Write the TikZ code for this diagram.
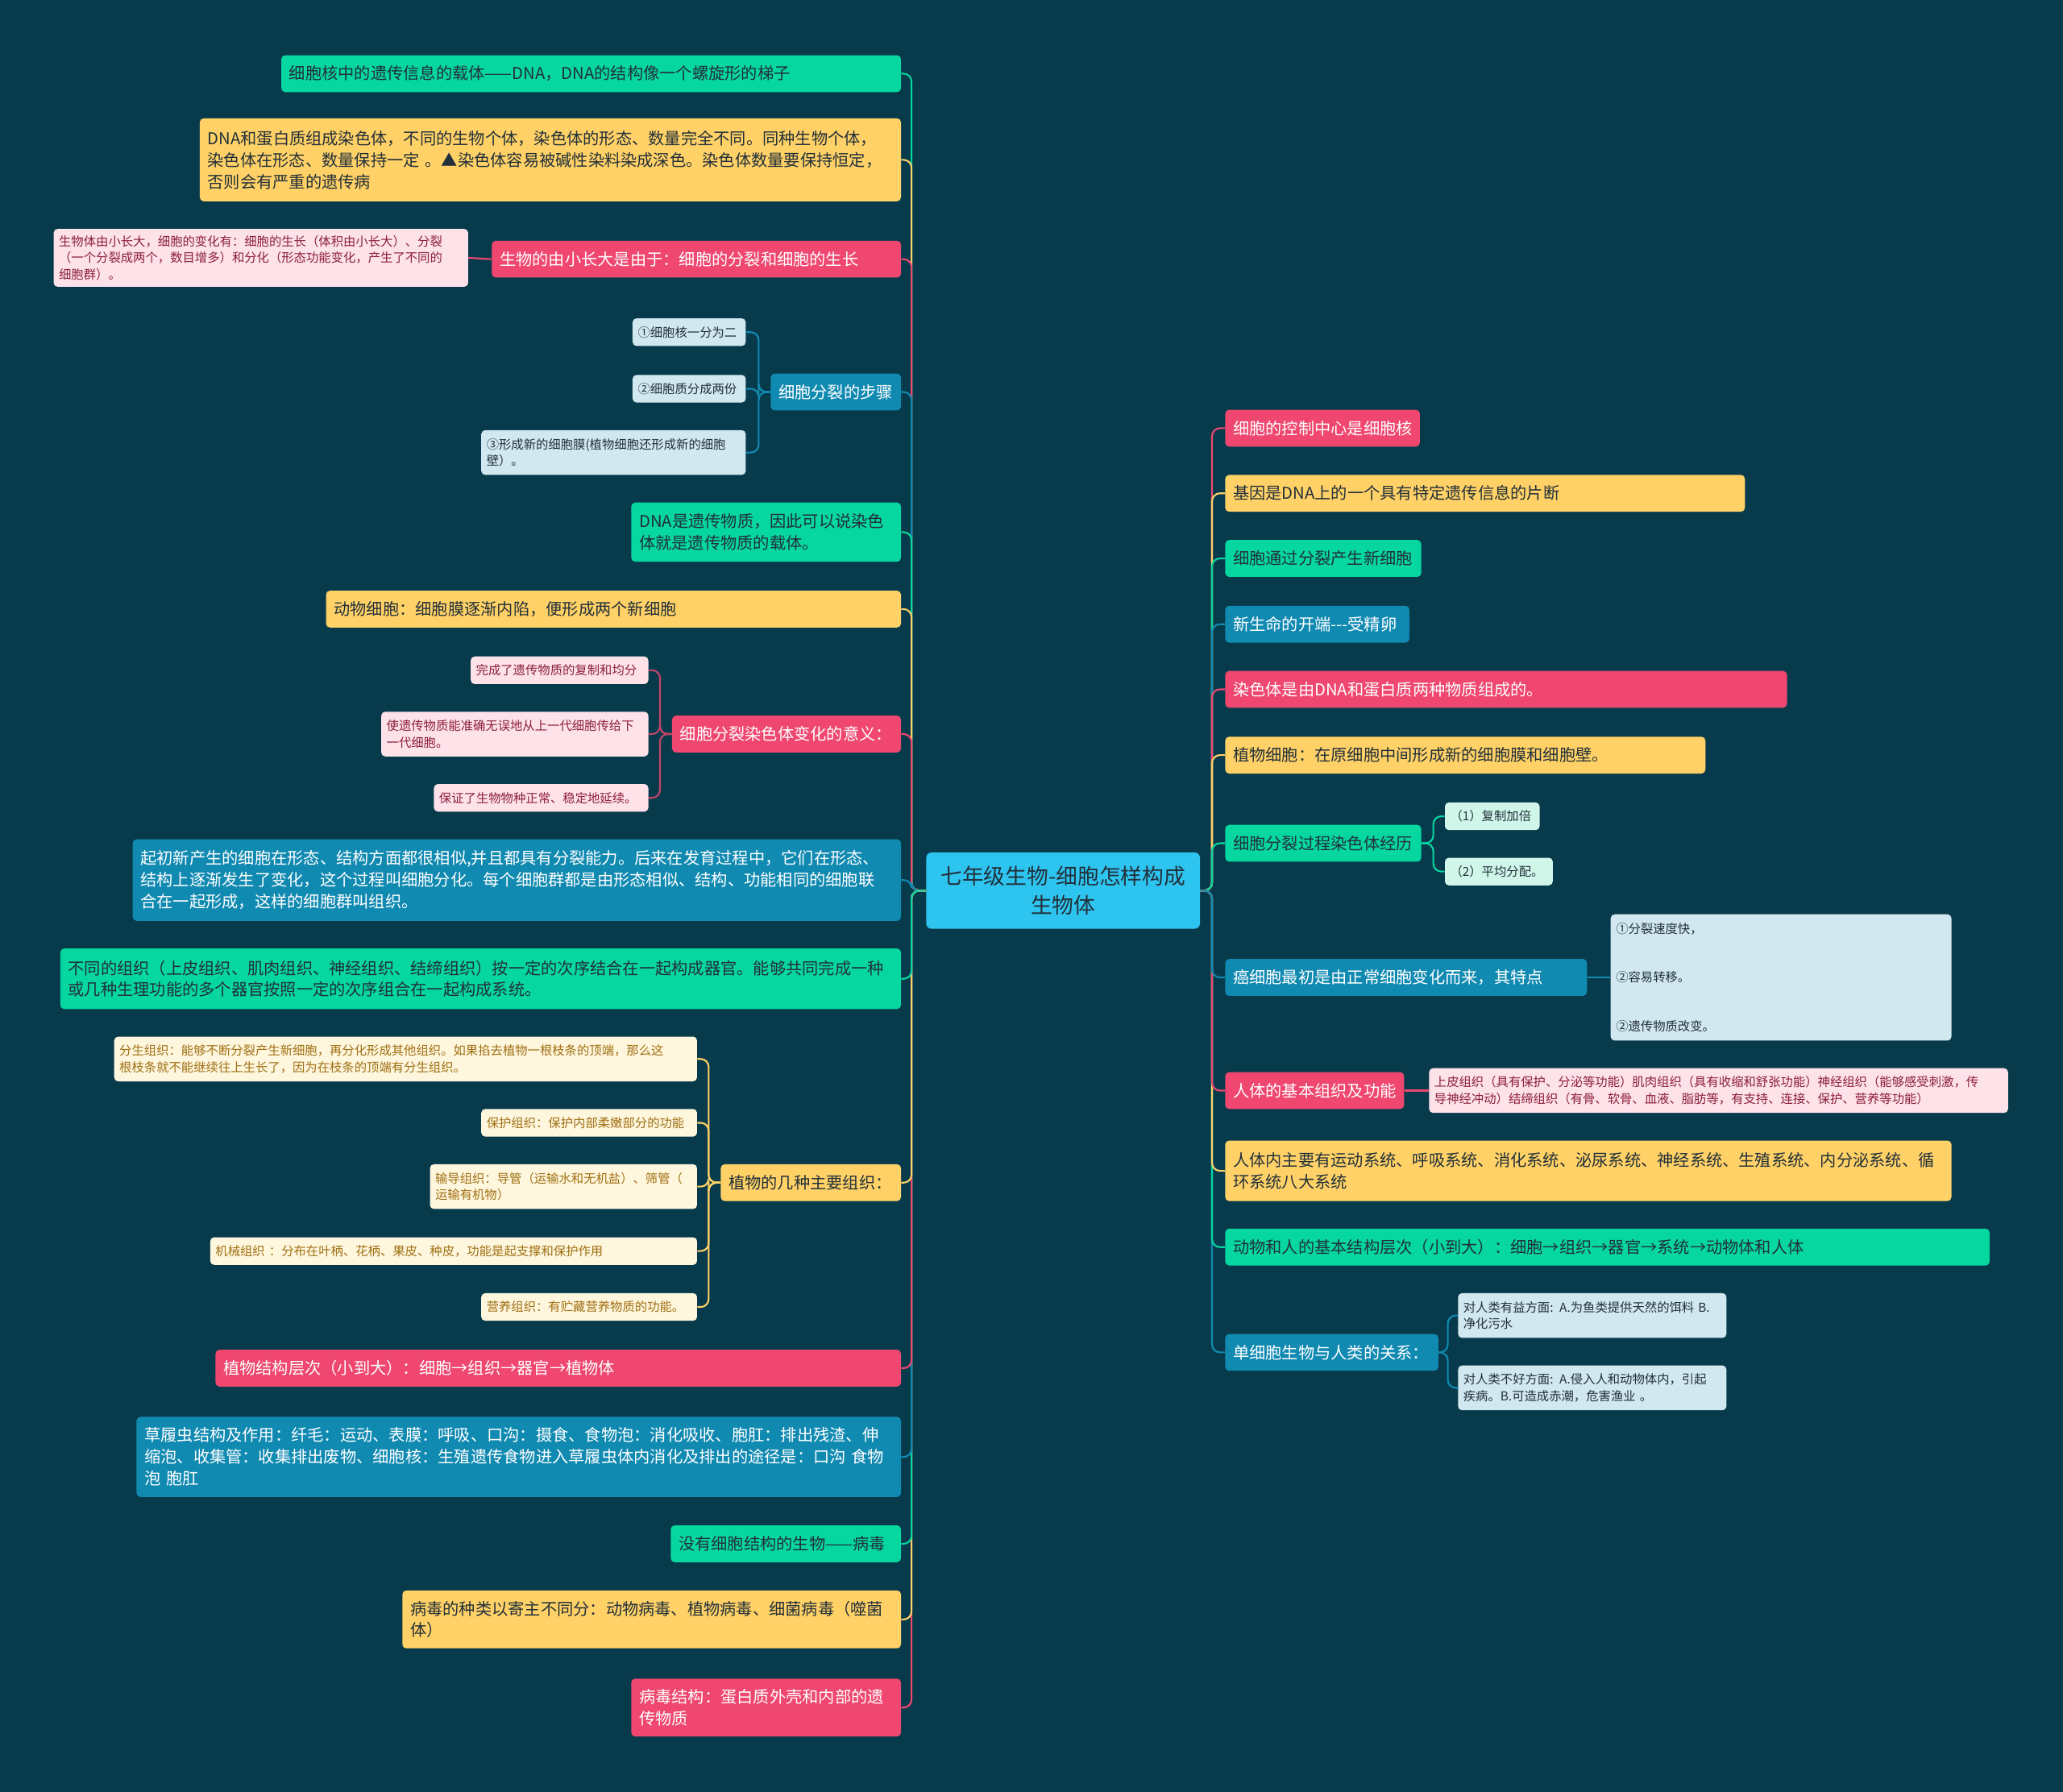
\documentclass[tikz,border=0pt]{standalone}
\usepackage{fontspec}
\setmainfont{Noto Sans CJK SC}
\usetikzlibrary{calc}
\definecolor{bg}{RGB}{7,59,76}
\definecolor{cgreen}{RGB}{6,214,160}
\definecolor{cyellow}{RGB}{255,209,102}
\definecolor{cred}{RGB}{239,71,111}
\definecolor{cblue}{RGB}{17,138,178}
\definecolor{ccyan}{RGB}{46,196,240}
\definecolor{cdark}{RGB}{34,48,58}
\definecolor{cpink}{RGB}{253,226,234}
\definecolor{cpinktxt}{RGB}{140,30,62}
\definecolor{clblue}{RGB}{210,232,240}
\definecolor{ccream}{RGB}{255,246,222}
\definecolor{ccreamtxt}{RGB}{158,112,18}
\definecolor{cmint}{RGB}{208,246,234}
\newcommand\bigtxt{\fontsize{12.4}{16.5}\selectfont}
\newcommand\smalltxt{\fontsize{9.4}{12.6}\selectfont}
\newcommand\centxt{\fontsize{16.4}{22}\selectfont}
\tikzset{
  nbase/.style={rounded corners=3pt, inner xsep=6pt, inner ysep=5pt, align=left, font=\bigtxt, minimum height=28pt},
  gblk/.style={nbase, fill=cgreen, text=cdark},
  yblk/.style={nbase, fill=cyellow, text=cdark},
  rblk/.style={nbase, fill=cred, text=white},
  bblk/.style={nbase, fill=cblue, text=white},
  sbase/.style={rounded corners=3pt, inner xsep=4pt, inner ysep=4pt, align=left, font=\smalltxt, minimum height=21pt},
  pblk/.style={sbase, fill=cpink, text=cpinktxt},
  lblk/.style={sbase, fill=clblue, text=cdark},
  cblk/.style={sbase, fill=ccream, text=ccreamtxt},
  mblk/.style={sbase, fill=cmint, text=cdark},
  cen/.style={rounded corners=4pt, fill=ccyan, text=cdark, font=\centxt, align=center, minimum height=58pt, minimum width=208pt},
  ln/.style={line width=1.3pt, rounded corners=6pt},
}

\begin{document}
\begin{tikzpicture}[x=1pt, y=-1pt]
\fill[bg] (0,0) rectangle (1568,1362);
\useasboundingbox (0,0) rectangle (1568,1362);

\node[cen, text width=196pt] (root) at (808,677) {七年级生物-细胞怎样构成\\生物体};

% left side
\node[gblk, anchor=east, text width=459pt] (ladder) at (685,56) {细胞核中的遗传信息的载体——DNA，DNA的结构像一个螺旋形的梯子};
\node[yblk, anchor=east, text width=521pt, minimum height=63pt] (chrom) at (685,121.5) {DNA和蛋白质组成染色体，不同的生物个体，染色体的形态、数量完全不同。同种生物个体，\\染色体在形态、数量保持一定 。▲染色体容易被碱性染料染成深色。染色体数量要保持恒定，\\否则会有严重的遗传病};
\node[rblk, anchor=east, text width=299pt] (grow) at (685,197) {生物的由小长大是由于：细胞的分裂和细胞的生长};
\node[pblk, anchor=east, text width=307pt, minimum height=44pt] (growx) at (356,196) {生物体由小长大，细胞的变化有：细胞的生长（体积由小长大）、分裂\\（一个分裂成两个，数目增多）和分化（形态功能变化，产生了不同的\\细胞群）。};
\node[bblk, anchor=east, text width=87pt] (steps) at (685,298) {细胞分裂的步骤};
\node[lblk, anchor=east, text width=78pt] (s1) at (567,252.5) {①细胞核一分为二};
\node[lblk, anchor=east, text width=78pt] (s2) at (567,295.5) {②细胞质分成两份};
\node[lblk, anchor=east, text width=193pt, minimum height=34pt] (s3) at (567,344) {③形成新的细胞膜(植物细胞还形成新的细胞\\壁）。};
\node[gblk, anchor=east, text width=193pt, minimum height=45pt] (dnamat) at (685,404.5) {DNA是遗传物质，因此可以说染色\\体就是遗传物质的载体。};
\node[yblk, anchor=east, text width=425pt] (animal) at (685,463) {动物细胞：细胞膜逐渐内陷，便形成两个新细胞};
\node[rblk, anchor=east, text width=162pt] (mean) at (685,558) {细胞分裂染色体变化的意义：};
\node[pblk, anchor=east, text width=127pt] (m1) at (493,509.5) {完成了遗传物质的复制和均分};
\node[pblk, anchor=east, text width=195pt, minimum height=34pt] (m2) at (493,558) {使遗传物质能准确无误地从上一代细胞传给下\\一代细胞。};
\node[pblk, anchor=east, text width=155pt] (m3) at (493,606.5) {保证了生物物种正常、稳定地延续。};
\node[bblk, anchor=east, text width=572pt, minimum height=62pt] (diff) at (685,669) {起初新产生的细胞在形态、结构方面都很相似,并且都具有分裂能力。后来在发育过程中，它们在形态、\\结构上逐渐发生了变化，这个过程叫细胞分化。每个细胞群都是由形态相似、结构、功能相同的细胞联\\合在一起形成，这样的细胞群叫组织。};
\node[gblk, anchor=east, text width=627pt, minimum height=46pt] (organ) at (685,744) {不同的组织（上皮组织、肌肉组织、神经组织、结缔组织）按一定的次序结合在一起构成器官。能够共同完成一种\\或几种生理功能的多个器官按照一定的次序组合在一起构成系统。};
\node[yblk, anchor=east, text width=125pt] (ptis) at (685,899) {植物的几种主要组织：};
\node[cblk, anchor=east, text width=435pt, minimum height=34pt] (t1) at (530,805) {分生组织：能够不断分裂产生新细胞，再分化形成其他组织。如果掐去植物一根枝条的顶端，那么这\\根枝条就不能继续往上生长了，因为在枝条的顶端有分生组织。};
\node[cblk, anchor=east, text width=156pt] (t2) at (530,853.5) {保护组织：保护内部柔嫩部分的功能};
\node[cblk, anchor=east, text width=195pt, minimum height=34pt] (t3) at (530,902) {输导组织：导管（运输水和无机盐）、筛管（\\运输有机物）};
\node[cblk, anchor=east, text width=362pt] (t4) at (530,951) {机械组织 ：分布在叶柄、花柄、果皮、种皮，功能是起支撑和保护作用};
\node[cblk, anchor=east, text width=156pt] (t5) at (530,993.5) {营养组织：有贮藏营养物质的功能。};
\node[rblk, anchor=east, text width=509pt] (plev) at (685,1040) {植物结构层次（小到大）：细胞→组织→器官→植物体};
\node[bblk, anchor=east, text width=569pt, minimum height=61pt] (para) at (685,1107.5) {草履虫结构及作用：纤毛：运动、表膜：呼吸、口沟：摄食、食物泡：消化吸收、胞肛：排出残渣、伸\\缩泡、收集管：收集排出废物、细胞核：生殖遗传食物进入草履虫体内消化及排出的途径是：口沟 食物\\泡 胞肛};
\node[gblk, anchor=east, text width=163pt] (novir) at (685,1173.5) {没有细胞结构的生物——病毒};
\node[yblk, anchor=east, text width=367pt, minimum height=44pt] (vkind) at (685,1231) {病毒的种类以寄主不同分：动物病毒、植物病毒、细菌病毒（噬菌\\体）};
\node[rblk, anchor=east, text width=193pt, minimum height=44pt] (vstr) at (685,1298) {病毒结构：蛋白质外壳和内部的遗\\传物质};

% right side
\node[rblk, anchor=west, text width=136pt] (ctrl) at (931,325.5) {细胞的控制中心是细胞核};
\node[yblk, anchor=west, text width=383pt] (gene) at (931,375) {基因是DNA上的一个具有特定遗传信息的片断};
\node[gblk, anchor=west, text width=137pt] (split) at (931,424.5) {细胞通过分裂产生新细胞};
\node[bblk, anchor=west, text width=128pt] (zyg) at (931,474.5) {新生命的开端{-}{-}{-}受精卵};
\node[rblk, anchor=west, text width=415pt] (cdna) at (931,524) {染色体是由DNA和蛋白质两种物质组成的。};
\node[yblk, anchor=west, text width=353pt] (plant) at (931,574) {植物细胞：在原细胞中间形成新的细胞膜和细胞壁。};
\node[gblk, anchor=west, text width=137pt] (proc) at (931,641) {细胞分裂过程染色体经历};
\node[mblk, anchor=west, text width=64pt] (p1) at (1098,620.5) {（1）复制加倍};
\node[mblk, anchor=west, text width=74pt] (p2) at (1098,662.5) {（2）平均分配。};
\node[bblk, anchor=west, text width=263pt] (canc) at (931,743) {癌细胞最初是由正常细胞变化而来，其特点};
\node[lblk, anchor=west, text width=251pt, minimum height=96pt] (cx) at (1224,743) {①分裂速度快，\\[24.4pt]②容易转移。\\[24.4pt]②遗传物质改变。};
\node[rblk, anchor=west, text width=124pt] (htis) at (931,829) {人体的基本组织及功能};
\node[pblk, anchor=west, text width=432pt, minimum height=34pt] (hx) at (1086,829) {上皮组织（具有保护、分泌等功能）肌肉组织（具有收缩和舒张功能）神经组织（能够感受刺激，传\\导神经冲动）结缔组织（有骨、软骨、血液、脂肪等，有支持、连接、保护、营养等功能）};
\node[yblk, anchor=west, text width=540pt, minimum height=46pt] (sys) at (931,890) {人体内主要有运动系统、呼吸系统、消化系统、泌尿系统、神经系统、生殖系统、内分泌系统、循\\环系统八大系统};
\node[gblk, anchor=west, text width=569pt] (alev) at (931,948) {动物和人的基本结构层次（小到大）：细胞→组织→器官→系统→动物体和人体};
\node[bblk, anchor=west, text width=150pt] (uni) at (931,1028) {单细胞生物与人类的关系：};
\node[lblk, anchor=west, text width=196pt, minimum height=34pt] (u1) at (1108,1000) {对人类有益方面: A.为鱼类提供天然的饵料 B.\\净化污水};
\node[lblk, anchor=west, text width=196pt, minimum height=34pt] (u2) at (1108,1055) {对人类不好方面: A.侵入人和动物体内，引起\\疾病。B.可造成赤潮，危害渔业 。};

% left connectors
\draw[ln, cgreen] (root.west) -- ++(-11,0) |- (ladder.east);
\draw[ln, cyellow] (root.west) -- ++(-11,0) |- (chrom.east);
\draw[ln, cred] (root.west) -- ++(-11,0) |- (grow.east);
\draw[ln, cblue] (root.west) -- ++(-11,0) |- (steps.east);
\draw[ln, cgreen] (root.west) -- ++(-11,0) |- (dnamat.east);
\draw[ln, cyellow] (root.west) -- ++(-11,0) |- (animal.east);
\draw[ln, cred] (root.west) -- ++(-11,0) |- (mean.east);
\draw[ln, cblue] (root.west) -- ++(-11,0) |- (diff.east);
\draw[ln, cred] (root.west) -- ++(-11,0) |- (vstr.east);
\draw[ln, cyellow] (root.west) -- ++(-11,0) |- (vkind.east);
\draw[ln, cgreen] (root.west) -- ++(-11,0) |- (novir.east);
\draw[ln, cblue] (root.west) -- ++(-11,0) |- (para.east);
\draw[ln, cred] (root.west) -- ++(-11,0) |- (plev.east);
\draw[ln, cyellow] (root.west) -- ++(-11,0) |- (ptis.east);
\draw[ln, cgreen] (root.west) -- ++(-11,0) |- (organ.east);

\draw[ln, cred] (grow.west) -- (growx.east);
\foreach \c in {s1,s2,s3} \draw[ln, cblue] (steps.west) -- ++(-9,0) |- (\c.east);
\foreach \c in {m1,m2,m3} \draw[ln, cred!80!bg] (mean.west) -- ++(-9,0) |- (\c.east);
\foreach \c in {t1,t2,t3,t4,t5} \draw[ln, cyellow] (ptis.west) -- ++(-9,0) |- (\c.east);

% right connectors
\draw[ln, cred] (root.east) -- ++(9,0) |- (ctrl.west);
\draw[ln, cyellow] (root.east) -- ++(9,0) |- (gene.west);
\draw[ln, cgreen] (root.east) -- ++(9,0) |- (split.west);
\draw[ln, cblue] (root.east) -- ++(9,0) |- (zyg.west);
\draw[ln, cred] (root.east) -- ++(9,0) |- (cdna.west);
\draw[ln, cyellow] (root.east) -- ++(9,0) |- (plant.west);
\draw[ln, cgreen] (root.east) -- ++(9,0) |- (proc.west);
\draw[ln, cblue] (root.east) -- ++(9,0) |- (uni.west);
\draw[ln, cgreen] (root.east) -- ++(9,0) |- (alev.west);
\draw[ln, cyellow] (root.east) -- ++(9,0) |- (sys.west);
\draw[ln, cred] (root.east) -- ++(9,0) |- (htis.west);
\draw[ln, cblue] (root.east) -- ++(9,0) |- (canc.west);

\foreach \c in {p1,p2} \draw[ln, cgreen] (proc.east) -- ++(9,0) |- (\c.west);
\draw[ln, cblue] (canc.east) -- (cx.west);
\draw[ln, cred] (htis.east) -- (hx.west);
\foreach \c in {u1,u2} \draw[ln, cblue] (uni.east) -- ++(7,0) |- (\c.west);

\end{tikzpicture}
\end{document}
